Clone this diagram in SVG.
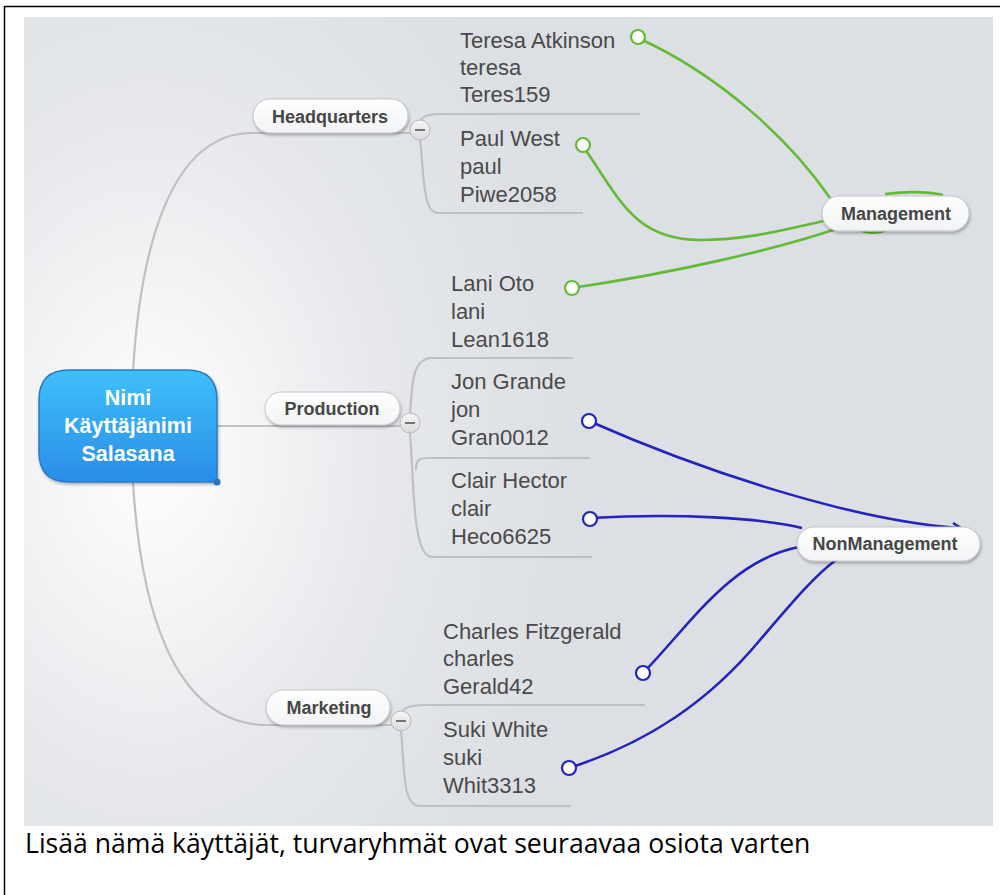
<svg xmlns="http://www.w3.org/2000/svg" width="1000" height="895" viewBox="0 0 1000 895">
<defs>
<radialGradient id="bg" cx="150" cy="450" r="620" gradientUnits="userSpaceOnUse" gradientTransform="translate(150 450) scale(0.7 1) translate(-150 -450)">
<stop offset="0" stop-color="#ffffff"/>
<stop offset="0.55" stop-color="#e6e8eb"/>
<stop offset="1" stop-color="#dcdfe3"/>
</radialGradient>
<linearGradient id="blue" x1="0" y1="0" x2="0" y2="1">
<stop offset="0" stop-color="#3ec0fb"/>
<stop offset="1" stop-color="#2a8de6"/>
</linearGradient>
<linearGradient id="pill" x1="0" y1="0" x2="0" y2="1">
<stop offset="0" stop-color="#ffffff"/>
<stop offset="1" stop-color="#f1f3f5"/>
</linearGradient>
<linearGradient id="minus" x1="0" y1="0" x2="0" y2="1">
<stop offset="0" stop-color="#f7f7f7"/>
<stop offset="1" stop-color="#dadada"/>
</linearGradient>
<filter id="sh" x="-20%" y="-30%" width="140%" height="170%">
<feDropShadow dx="1" dy="2" stdDeviation="1.5" flood-color="#000" flood-opacity="0.28"/>
</filter>
</defs>
<style>
.branch{fill:none;stroke:#bfc0c2;stroke-width:2.2}
.g{fill:none;stroke:#63bb35;stroke-width:2.6}
.b{fill:none;stroke:#2323bd;stroke-width:2.6}
.gc{fill:#fff;stroke:#63bb35;stroke-width:2.2}
.bc{fill:#fff;stroke:#2323bd;stroke-width:2.2}
.pill{fill:url(#pill);stroke:#c4c6c9;stroke-width:1;filter:url(#sh)}
.pt{font-family:"Liberation Sans",Arial,sans-serif;font-weight:bold;font-size:18px;fill:#464646;text-anchor:middle}
.ct{font-family:"Liberation Sans",Arial,sans-serif;font-size:22px;fill:#4a4a4a}
.mc{fill:url(#minus);stroke:#b9b9b9;stroke-width:1}
.ml{stroke:#555;stroke-width:1.6}
</style>
<rect x="0" y="0" width="1000" height="895" fill="#ffffff"/>
<rect x="4.5" y="6.5" width="1000" height="900" fill="none" stroke="#000" stroke-width="1.5"/>
<rect x="24" y="17" width="969" height="809" fill="url(#bg)"/>

<g id="branches">
<path class="branch" d="M133,372 C140,250 170,133 252,133 L410,133"/>
<path class="branch" d="M217,426 L400,426"/>
<path class="branch" d="M133,482 C140,600 170,725 268,725 L392,725"/>
<path class="branch" d="M420,122 C422,116 428,114 440,114 L640,114"/>
<path class="branch" d="M420,140 C424,170 422,213 438,213 L583,213"/>
<path class="branch" d="M410,415 C412,385 412,358 432,358 L573,358"/>
<path class="branch" d="M410,433 C414,480 412,557 432,557 L592,557"/>
<path class="branch" d="M416,470 C416,458 420,458 430,458 L590,458"/>
<path class="branch" d="M401,713 C403,708 410,705 425,705 L645,705"/>
<path class="branch" d="M401,731 C405,770 402,806 420,806 L571,806"/>
</g>

<g id="connectors">
<path class="g" d="M885,194 C910,191 930,192 943,195"/>
<path class="g" d="M858,229 C868,235 882,233 888,229"/>
<path class="g" d="M638,38 C720,75 790,140 830,198"/>
<path class="g" d="M583,146 C620,200 635,240 700,240 C750,240 790,228 824,221"/>
<path class="g" d="M572,288 C680,272 780,248 836,229"/>
<path class="b" d="M589,421 C700,470 850,520 958,528"/>
<path class="b" d="M953,523 L961,528 L955,531"/>
<path class="b" d="M590,518 C680,513 760,518 802,528"/>
<path class="b" d="M643,673 C690,625 730,560 799,547"/>
<path class="b" d="M569,768 C650,742 710,700 760,640 C790,605 815,575 836,560"/>
<circle class="gc" cx="638" cy="37" r="7"/>
<circle class="gc" cx="583" cy="145" r="7"/>
<circle class="gc" cx="572" cy="288" r="7"/>
<circle class="bc" cx="589" cy="421" r="7"/>
<circle class="bc" cx="590" cy="519" r="7"/>
<circle class="bc" cx="643" cy="673" r="7"/>
<circle class="bc" cx="569" cy="768" r="7"/>
</g>

<g id="root">
<path d="M69,370 L187,370 Q217,370 217,400 L217,482 L69,482 Q39,482 39,452 L39,400 Q39,370 69,370 Z" fill="url(#blue)" stroke="#2b79c4" stroke-width="1.5" filter="url(#sh)"/>
<circle cx="217" cy="482" r="3.5" fill="#2a72c0"/>
<text font-family="Liberation Sans,Arial,sans-serif" font-weight="bold" font-size="21.5" fill="#fff" text-anchor="middle"><tspan x="128" y="405">Nimi</tspan><tspan x="128" y="433">Käyttäjänimi</tspan><tspan x="128" y="461">Salasana</tspan></text>
</g>

<g id="headquarters">
<rect class="pill" x="253" y="99" width="155" height="34" rx="17"/>
<text class="pt" x="330" y="123">Headquarters</text>
<circle class="mc" cx="420" cy="130" r="10"/>
<line class="ml" x1="415" y1="130" x2="425" y2="130"/>
</g>
<g id="production">
<rect class="pill" x="265" y="392" width="135" height="33" rx="16.5"/>
<text class="pt" x="332" y="415">Production</text>
<circle class="mc" cx="410" cy="423" r="10"/>
<line class="ml" x1="405" y1="423" x2="415" y2="423"/>
</g>
<g id="marketing">
<rect class="pill" x="266" y="690" width="124" height="35" rx="17.5"/>
<text class="pt" x="329" y="714">Marketing</text>
<circle class="mc" cx="401" cy="721" r="10"/>
<line class="ml" x1="396" y1="721" x2="406" y2="721"/>
</g>

<g id="teresa"><text class="ct"><tspan x="460" y="48">Teresa Atkinson</tspan><tspan x="460" y="75">teresa</tspan><tspan x="460" y="102">Teres159</tspan></text></g>
<g id="paul"><text class="ct"><tspan x="460" y="146">Paul West</tspan><tspan x="460" y="174">paul</tspan><tspan x="460" y="202">Piwe2058</tspan></text></g>
<g id="lani"><text class="ct"><tspan x="451" y="291">Lani Oto</tspan><tspan x="451" y="319">lani</tspan><tspan x="451" y="347">Lean1618</tspan></text></g>
<g id="jon"><text class="ct"><tspan x="451" y="389">Jon Grande</tspan><tspan x="451" y="417">jon</tspan><tspan x="451" y="445">Gran0012</tspan></text></g>
<g id="clair"><text class="ct"><tspan x="451" y="488">Clair Hector</tspan><tspan x="451" y="516">clair</tspan><tspan x="451" y="544">Heco6625</tspan></text></g>
<g id="charles"><text class="ct"><tspan x="443" y="639">Charles Fitzgerald</tspan><tspan x="443" y="666">charles</tspan><tspan x="443" y="694">Gerald42</tspan></text></g>
<g id="suki"><text class="ct"><tspan x="443" y="737">Suki White</tspan><tspan x="443" y="765">suki</tspan><tspan x="443" y="793">Whit3313</tspan></text></g>

<g id="management">
<rect class="pill" x="822" y="196" width="147" height="35" rx="17.5"/>
<text class="pt" x="896" y="220">Management</text>
</g>
<g id="nonmanagement">
<rect class="pill" x="797" y="527" width="183" height="34" rx="17"/>
<text class="pt" x="885" y="550">NonManagement</text>
</g>

<text x="25" y="853" font-family="Open Sans,Noto Sans,sans-serif" font-size="26.6" fill="#000">Lisää nämä käyttäjät, turvaryhmät ovat seuraavaa osiota varten</text>
</svg>
